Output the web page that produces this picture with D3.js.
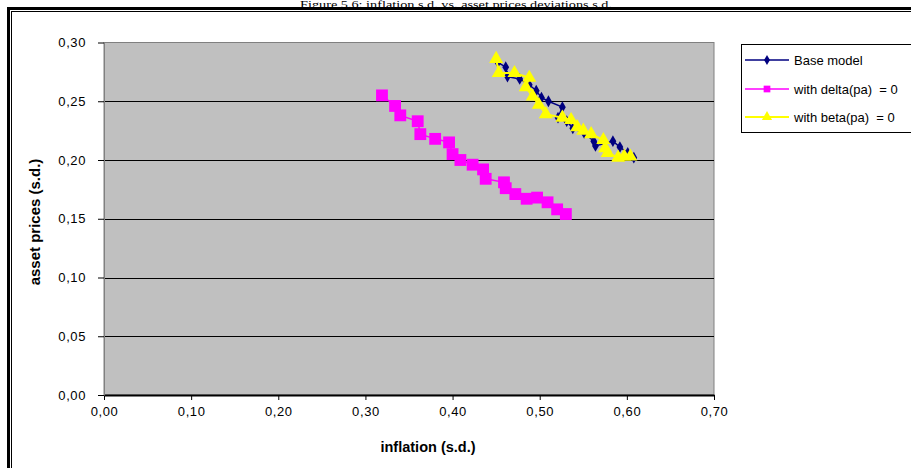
<!DOCTYPE html>
<html><head><meta charset="utf-8">
<script src="https://cdn.jsdelivr.net/npm/d3@7"></script>
<style>
html,body{margin:0;padding:0;background:#fff;overflow:hidden}
svg{display:block}
text{font-family:"Liberation Sans",Arial,sans-serif}
</style></head>
<body>
<svg id="c" width="911" height="468"></svg>
<script>
// ---- data ----
const titleText = "Figure 5.6: inflation s.d. vs. asset prices deviations s.d.";
const xTitle = "inflation (s.d.)";
const yTitle = "asset prices (s.d.)";
const xTicks = [0, 0.1, 0.2, 0.3, 0.4, 0.5, 0.6, 0.7];
const yTicks = [0, 0.05, 0.1, 0.15, 0.2, 0.25, 0.3];
const seriesNames = ["Base model", "with delta(pa)  = 0", "with beta(pa)  = 0"];

const baseX = [0.452,0.461,0.463,0.477,0.488,0.496,0.502,0.510,0.526,0.521,0.531,0.538,0.551,0.562,0.564,0.584,0.592,0.601,0.608];
const baseY = [0.283,0.279,0.271,0.269,0.264,0.259,0.253,0.250,0.245,0.236,0.233,0.227,0.223,0.216,0.212,0.216,0.211,0.206,0.202];

const deltaX = [0.319,0.334,0.340,0.360,0.363,0.380,0.396,0.400,0.409,0.423,0.435,0.438,0.459,0.461,0.472,0.485,0.497,0.509,0.520,0.530];
const deltaY = [0.255,0.246,0.238,0.233,0.222,0.218,0.215,0.205,0.200,0.196,0.192,0.184,0.181,0.176,0.171,0.167,0.168,0.164,0.158,0.154];

const betaX = [0.450,0.453,0.471,0.488,0.484,0.492,0.499,0.507,0.526,0.536,0.543,0.550,0.559,0.573,0.575,0.578,0.590,0.597,0.604];
const betaY = [0.286,0.274,0.274,0.270,0.262,0.254,0.247,0.239,0.236,0.234,0.228,0.225,0.222,0.217,0.210,0.206,0.202,0.203,0.203];

// ---- chart ----
const svg = d3.select("#c");
const W = 911, H = 468;
const plot = {l:104, r:714, t:42.5, b:395};
const x = d3.scaleLinear().domain([0, 0.7]).range([plot.l, plot.r]);
const y = d3.scaleLinear().domain([0, 0.3]).range([plot.b, plot.t]);
const fmt = v => d3.format(".2f")(v).replace(".", ",");

// outer frame (double border)
svg.append("rect").attr("x", 8.5).attr("y", 8.5).attr("width", W + 20).attr("height", H + 20)
  .attr("fill", "none").attr("stroke", "#000").attr("stroke-width", 3);
svg.append("rect").attr("x", 11.5).attr("y", 11.5).attr("width", W + 20).attr("height", H + 20)
  .attr("fill", "none").attr("stroke", "#000").attr("stroke-width", 1);

// title (kept fully inside the picture, above the frame)
svg.append("text").attr("x", 456).attr("y", 7.5)
  .attr("text-anchor", "middle")
  .attr("font-size", 10).attr("fill", "#000")
  .attr("textLength", 312).attr("lengthAdjust", "spacingAndGlyphs")
  .style("font-family", "'Liberation Serif','Times New Roman',serif").text(titleText);

// plot area
svg.append("rect").attr("x", plot.l).attr("y", plot.t).attr("width", plot.r - plot.l).attr("height", plot.b - plot.t)
  .attr("fill", "#c0c0c0").attr("stroke", "#808080").attr("stroke-width", 1);

// gridlines
svg.append("g").selectAll("line").data(yTicks.filter(v => v > 0 && v < 0.3)).join("line")
  .attr("x1", plot.l).attr("x2", plot.r)
  .attr("y1", d => Math.round(y(d)) + 0.5).attr("y2", d => Math.round(y(d)) + 0.5)
  .attr("stroke", "#000").attr("stroke-width", 1);

// axes
const gx = svg.append("g").attr("transform", `translate(0,${plot.b})`)
  .call(d3.axisBottom(x).tickValues(xTicks).tickFormat(fmt).tickSize(5).tickSizeOuter(0).tickPadding(7));
gx.select(".domain").attr("stroke", "#000").attr("stroke-width", 2);
gx.selectAll(".tick line").attr("stroke", "#000");
gx.selectAll("text").attr("font-size", 13).attr("letter-spacing", "0.6px").attr("fill", "#000")
  .attr("font-family", "'Liberation Sans',Arial,sans-serif");

const gy = svg.append("g").attr("transform", `translate(${plot.l},0)`)
  .call(d3.axisLeft(y).tickValues(yTicks).tickFormat(fmt).tickSize(6).tickSizeOuter(0).tickPadding(12));
gy.select(".domain").attr("stroke", "#808080").attr("stroke-width", 1);
gy.selectAll(".tick line").attr("stroke", "#000");
gy.selectAll("text").attr("font-size", 13).attr("letter-spacing", "0.6px").attr("fill", "#000")
  .attr("font-family", "'Liberation Sans',Arial,sans-serif");

// axis titles
svg.append("text").attr("x", 428).attr("y", 452).attr("text-anchor", "middle")
  .attr("font-size", 14.5).attr("font-weight", "bold").attr("fill", "#000").text(xTitle);
svg.append("text").attr("transform", "translate(40,222) rotate(-90)").attr("text-anchor", "middle")
  .attr("font-size", 15).attr("font-weight", "bold").attr("fill", "#000").text(yTitle);

// series
const series = [
  {name: seriesNames[0], xs: baseX, ys: baseY, color: "#000080", sym: d3.symbolDiamond, size: 40, lw: 1.5, msize: 30},
  {name: seriesNames[1], xs: deltaX, ys: deltaY, color: "#ff00ff", sym: d3.symbolSquare, size: 140, lw: 1.5, msize: 45},
  {name: seriesNames[2], xs: betaX, ys: betaY, color: "#ffff00", sym: d3.symbolTriangle, size: 85, lw: 2, msize: 45}
];
const line = d3.line().x(d => x(d[0])).y(d => y(d[1]));
series.forEach(s => {
  const pts = s.xs.map((v, i) => [v, s.ys[i]]);
  const g = svg.append("g");
  g.append("path").attr("d", line(pts)).attr("fill", "none").attr("stroke", s.color).attr("stroke-width", s.lw);
  g.selectAll("path.m").data(pts).join("path").attr("class", "m")
    .attr("transform", d => `translate(${x(d[0])},${y(d[1])})`)
    .attr("d", d3.symbol().type(s.sym).size(s.size)).attr("fill", s.color);
});

// legend
const lg = svg.append("g");
lg.append("rect").attr("x", 741.5).attr("y", 44.5).attr("width", 200).attr("height", 88)
  .attr("fill", "#fff").attr("stroke", "#000").attr("stroke-width", 1);
const ly = [60, 89, 117];
series.forEach((s, i) => {
  lg.append("line").attr("x1", 745).attr("x2", 789).attr("y1", ly[i]).attr("y2", ly[i])
    .attr("stroke", s.color).attr("stroke-width", s.lw);
  lg.append("path").attr("transform", `translate(767,${ly[i]})`)
    .attr("d", d3.symbol().type(s.sym).size(s.msize)).attr("fill", s.color);
  lg.append("text").attr("x", 794).attr("y", ly[i]).attr("dy", "0.35em")
    .attr("font-size", 13).attr("fill", "#000").attr("xml:space", "preserve").style("white-space", "pre").text(s.name);
});
</script>
</body></html>
